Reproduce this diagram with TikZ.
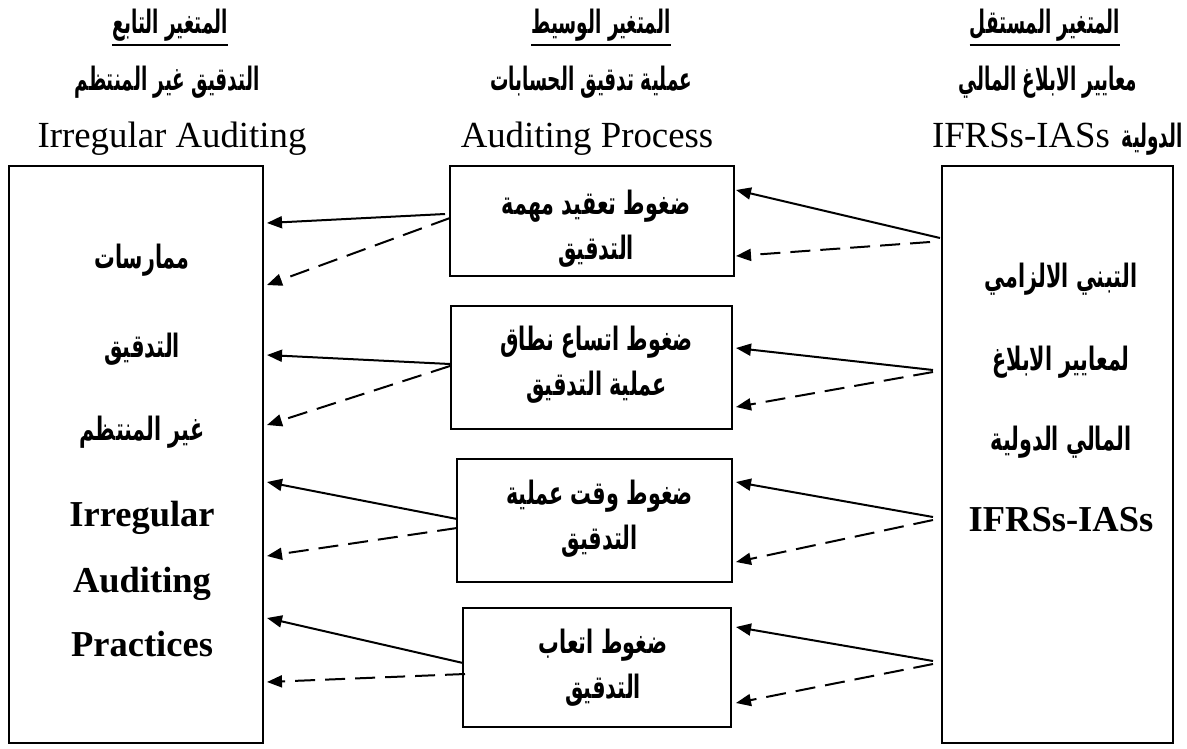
\documentclass[tikz,border=0pt]{standalone}
\usepackage{fontspec}
\usepackage{graphicx}
\setmainfont{Liberation Serif}
\newfontfamily\arfont[Script=Arabic]{DejaVu Sans}
\TeXXeTstate=1
\usetikzlibrary{arrows.meta,calc}
% Arabic runs: right-to-left, narrowed and heightened to a naskh-like proportion
\newcommand\arh[1]{\scalebox{0.8}[1.4]{\beginR#1\endR}}
\newcommand\arb[1]{\scalebox{0.9}[1.4]{\beginR#1\endR}}

\tikzset{
  frame/.style={draw,line width=2pt,inner sep=0pt},
  arhead/.style={font=\arfont\bfseries\fontsize{23}{23}\selectfont,inner sep=0pt,anchor=base},
  arbody/.style={font=\arfont\bfseries\fontsize{23}{23}\selectfont,inner sep=0pt,anchor=base},
  enh/.style={font=\fontsize{36.8}{36.8}\selectfont,inner sep=0pt,anchor=base},
  enb/.style={font=\bfseries\fontsize{36.5}{36.5}\selectfont,inner sep=0pt,anchor=base},
  midtext/.style={align=center,inner sep=0pt,font=\arfont\bfseries\fontsize{23}{45}\selectfont},
  link/.style={line width=2pt,-{Triangle[length=15pt,width=12pt]}},
  dlink/.style={link,dash pattern=on 20pt off 10pt},
  uline/.style={line width=2pt}
}

\begin{document}
\begin{tikzpicture}[x=1pt,y=-1pt]
\useasboundingbox (0,0) rectangle (1187,748);

% column headings
\node[arhead] (h1) at (170,33) {\arh{المتغير التابع}};
\node[arhead] (h2) at (601,33) {\arh{المتغير الوسيط}};
\node[arhead] (h3) at (1045,33) {\arh{المتغير المستقل}};
\draw[uline] ($(h1.base west)+(0,12)$) -- ($(h1.base east)+(0,12)$);
\draw[uline] ($(h2.base west)+(0,12)$) -- ($(h2.base east)+(0,12)$);
\draw[uline] ($(h3.base west)+(0,12)$) -- ($(h3.base east)+(0,12)$);

\node[arhead] (s1) at (167,90) {\arh{التدقيق غير المنتظم}};
\node[arhead] (s2) at (591,90) {\arh{عملية تدقيق الحسابات}};
\node[arhead] (s3) at (1048,90) {\arh{معايير الابلاغ المالي}};

\node[enh] (e1) at (172,147) {Irregular Auditing};
\node[enh] (e2) at (587,147) {Auditing Process};
% the Arabic word stands to the right of the Latin abbreviation
\node[enh,anchor=base east] (e3) at (1183,147)
  {IFRSs-IASs\hspace{12pt}{\arfont\bfseries\fontsize{23}{23}\selectfont\arh{الدولية}}};

% dependent variable
\node[frame,minimum width=254pt,minimum height=577pt] (L) at (136,454.5) {};
\node[arbody] (l1) at (142,268) {\arb{ممارسات}};
\node[arbody] (l2) at (142,357) {\arb{التدقيق}};
\node[arbody] (l3) at (142,440) {\arb{غير المنتظم}};
\node[enb] (l4) at (142,526) {Irregular};
\node[enb] (l5) at (142,592) {Auditing};
\node[enb] (l6) at (142,656) {Practices};

% independent variable
\node[frame,minimum width=231pt,minimum height=577pt] (R) at (1057.5,454.5) {};
\node[arbody] (r1) at (1061,287) {\arb{التبني الالزامي}};
\node[arbody] (r2) at (1061,370) {\arb{لمعايير الابلاغ}};
\node[arbody] (r3) at (1061,450) {\arb{المالي الدولية}};
\node[enb] (r4) at (1061,531) {IFRSs-IASs};

% mediating pressures
\node[frame,minimum width=284pt,minimum height=110pt] (m1) at (592,221) {};
\node[frame,minimum width=281pt,minimum height=123pt] (m2) at (591.5,367.5) {};
\node[frame,minimum width=275pt,minimum height=123pt] (m3) at (594.5,520.5) {};
\node[frame,minimum width=268pt,minimum height=119pt] (m4) at (597,667.5) {};
\node[midtext] (t1) at ($(m1.center)+(4,8)$) {\arb{ضغوط تعقيد مهمة}\\\arb{التدقيق}};
\node[midtext] (t2) at ($(m2.center)+(5,-3)$) {\arb{ضغوط اتساع نطاق}\\\arb{عملية التدقيق}};
\node[midtext] (t3) at ($(m3.center)+(5,-2)$) {\arb{ضغوط وقت عملية}\\\arb{التدقيق}};
\node[midtext] (t4) at ($(m4.center)+(6,0)$) {\arb{ضغوط اتعاب}\\\arb{التدقيق}};

% arrow ends on the right-hand side
\coordinate (ra1) at (940,238); \coordinate (rb1) at (930,242);
\coordinate (ra2) at (933,370); \coordinate (rb2) at (933,372);
\coordinate (ra3) at (933,517); \coordinate (rb3) at (933,520);
\coordinate (ra4) at (933,661); \coordinate (rb4) at (933,664);
% tips at the mediating boxes
\coordinate (ma1) at (736,190); \coordinate (mb1) at (736,256);
\coordinate (ma2) at (736,348); \coordinate (mb2) at (736,407);
\coordinate (ma3) at (736,482); \coordinate (mb3) at (736,562);
\coordinate (ma4) at (736,627); \coordinate (mb4) at (736,703);
% tails at the mediating boxes
\coordinate (qa1) at (445,214); \coordinate (qb1) at (450,218);
\coordinate (qa2) at (450,364); \coordinate (qb2) at (450,366);
\coordinate (qa3) at (457,519); \coordinate (qb3) at (457,528);
\coordinate (qa4) at (463,663); \coordinate (qb4) at (465,674);
% tips at the dependent box
\coordinate (la1) at (267,223); \coordinate (lb1) at (267,285);
\coordinate (la2) at (267,355); \coordinate (lb2) at (267,425);
\coordinate (la3) at (267,482); \coordinate (lb3) at (267,556);
\coordinate (la4) at (267,618); \coordinate (lb4) at (267,682);

\foreach \i in {1,2,3,4}{
  \draw[link]  (ra\i) -- (ma\i);
  \draw[dlink] (rb\i) -- (mb\i);
  \draw[link]  (qa\i) -- (la\i);
  \draw[dlink] (qb\i) -- (lb\i);
}
\end{tikzpicture}
\end{document}
